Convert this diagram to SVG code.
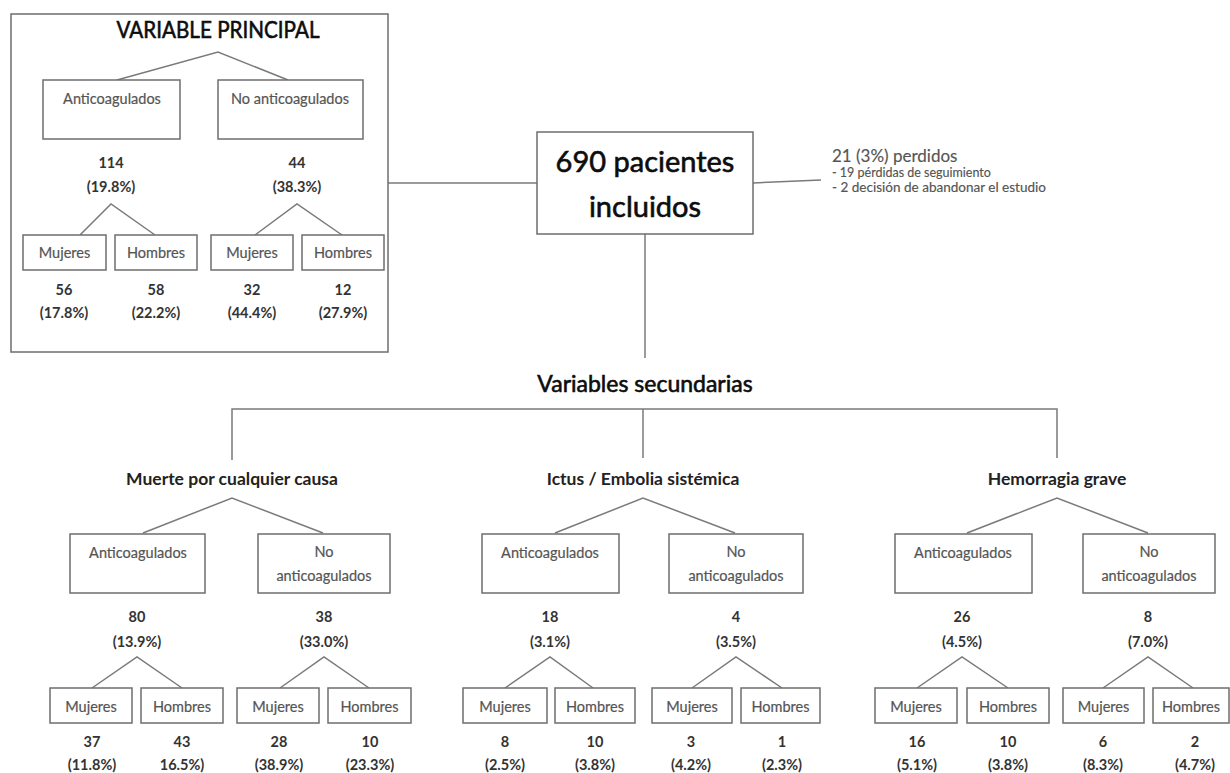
<svg xmlns="http://www.w3.org/2000/svg" width="1230" height="773" viewBox="0 0 1230 773">
<style>
text{font-family:Lato,"Liberation Sans",sans-serif;text-anchor:middle}
.box{fill:#fff;stroke:#6e6e6e;stroke-width:1.5}
.frame{fill:none;stroke:#6e6e6e;stroke-width:1.5}
.ln{fill:none;stroke:#7a7a7a;stroke-width:1.5}
.lbl{font-size:14.5px;fill:#555;stroke:#555;stroke-width:0.2}
.num{font-size:14.5px;font-weight:700;fill:#333}
.ttl{font-size:17.5px;font-weight:700;fill:#222}
.big{fill:#0d0d0d;stroke:#0d0d0d;stroke-width:0.6}
.note{text-anchor:start;fill:#555;stroke:#555;stroke-width:0.15}
</style>
<rect width="1230" height="773" fill="#fff"/>
<g id="connectors">
<line class="ln" x1="388" y1="183" x2="537" y2="183"/>
<line class="ln" x1="753" y1="183" x2="821" y2="180"/>
<line class="ln" x1="645" y1="234" x2="645" y2="358"/>
<polyline class="ln" points="232,460 232,409 1057,409 1057,458"/>
<line class="ln" x1="643" y1="409" x2="643" y2="458"/>
<polyline class="ln" points="117,80 218,52 288,80"/>
<polyline class="ln" points="80,235 111,204 155,235"/>
<polyline class="ln" points="255,235 297,204 342,235"/>
<polyline class="ln" points="143,533 232,498 323,533"/>
<polyline class="ln" points="92,688 137,657 182,688"/>
<polyline class="ln" points="280,688 324,657 369,688"/>
<polyline class="ln" points="555,533 643,498 735,533"/>
<polyline class="ln" points="505,688 550,657 593,688"/>
<polyline class="ln" points="692,688 736,657 782,688"/>
<polyline class="ln" points="967,533 1057,498 1148,533"/>
<polyline class="ln" points="917,688 962,657 1008,688"/>
<polyline class="ln" points="1103,688 1148,657 1193,688"/>
</g>
<g id="principal">
<rect class="frame" x="11" y="14" width="377" height="338"/>
<text class="big" x="218" y="38" font-size="23" textLength="203" lengthAdjust="spacingAndGlyphs">VARIABLE PRINCIPAL</text>
</g>
<g id="pp-anti"><rect class="box" x="43" y="80" width="137" height="59"/><text class="lbl" x="112" y="104">Anticoagulados</text><text class="num" x="111" y="168">114</text><text class="num" x="111" y="192">(19.8%)</text></g>
<g id="pp-noanti"><rect class="box" x="218" y="80" width="145" height="59"/><text class="lbl" x="290" y="104">No anticoagulados</text><text class="num" x="297" y="168">44</text><text class="num" x="297" y="192">(38.3%)</text></g>
<g id="pp-anti-m"><rect class="box" x="23" y="235" width="83" height="35"/><text class="lbl" x="64.5" y="258">Mujeres</text><text class="num" x="64" y="295">56</text><text class="num" x="64" y="318">(17.8%)</text></g>
<g id="pp-anti-h"><rect class="box" x="115" y="235" width="82" height="35"/><text class="lbl" x="156" y="258">Hombres</text><text class="num" x="156" y="295">58</text><text class="num" x="156" y="318">(22.2%)</text></g>
<g id="pp-noanti-m"><rect class="box" x="211" y="235" width="82" height="35"/><text class="lbl" x="252" y="258">Mujeres</text><text class="num" x="252" y="295">32</text><text class="num" x="252" y="318">(44.4%)</text></g>
<g id="pp-noanti-h"><rect class="box" x="302" y="235" width="82" height="35"/><text class="lbl" x="343" y="258">Hombres</text><text class="num" x="343" y="295">12</text><text class="num" x="343" y="318">(27.9%)</text></g>
<g id="incluidos"><rect class="box" x="537" y="132" width="216" height="102"/><text class="big" x="645" y="172" font-size="29">690 pacientes</text><text class="big" x="645" y="217" font-size="29">incluidos</text></g>
<g id="perdidos"><text class="note" x="832" y="162" font-size="17">21 (3%) perdidos</text><text class="note" x="832" y="177" font-size="12.5">- 19 pérdidas de seguimiento</text><text class="note" x="832" y="192" font-size="12.5" textLength="214" lengthAdjust="spacingAndGlyphs">- 2 decisión de abandonar el estudio</text></g>
<g id="secundarias"><text class="big" x="645" y="392" font-size="23">Variables secundarias</text></g>
<g id="muerte"><text class="ttl" x="232" y="485">Muerte por cualquier causa</text></g>
<g id="mu-anti"><rect class="box" x="70" y="534" width="135" height="59"/><text class="lbl" x="138" y="558">Anticoagulados</text><text class="num" x="137" y="622">80</text><text class="num" x="137" y="647">(13.9%)</text></g>
<g id="mu-noanti"><rect class="box" x="258" y="534" width="132" height="59"/><text class="lbl" x="324" y="557">No</text><text class="lbl" x="324" y="581">anticoagulados</text><text class="num" x="324" y="622">38</text><text class="num" x="324" y="647">(33.0%)</text></g>
<g id="mu-anti-m"><rect class="box" x="50" y="688" width="82" height="35"/><text class="lbl" x="91" y="712">Mujeres</text><text class="num" x="92" y="747">37</text><text class="num" x="92" y="770">(11.8%)</text></g>
<g id="mu-anti-h"><rect class="box" x="141" y="688" width="82" height="35"/><text class="lbl" x="182" y="712">Hombres</text><text class="num" x="182" y="747">43</text><text class="num" x="182" y="770">16.5%)</text></g>
<g id="mu-noanti-m"><rect class="box" x="237" y="688" width="82" height="35"/><text class="lbl" x="278" y="712">Mujeres</text><text class="num" x="279" y="747">28</text><text class="num" x="279" y="770">(38.9%)</text></g>
<g id="mu-noanti-h"><rect class="box" x="328" y="688" width="83" height="35"/><text class="lbl" x="369.5" y="712">Hombres</text><text class="num" x="370" y="747">10</text><text class="num" x="370" y="770">(23.3%)</text></g>
<g id="ictus"><text class="ttl" x="643" y="485">Ictus / Embolia sistémica</text></g>
<g id="ic-anti"><rect class="box" x="482" y="534" width="137" height="59"/><text class="lbl" x="550" y="558">Anticoagulados</text><text class="num" x="550" y="622">18</text><text class="num" x="550" y="647">(3.1%)</text></g>
<g id="ic-noanti"><rect class="box" x="669" y="534" width="134" height="59"/><text class="lbl" x="736" y="557">No</text><text class="lbl" x="736" y="581">anticoagulados</text><text class="num" x="736" y="622">4</text><text class="num" x="736" y="647">(3.5%)</text></g>
<g id="ic-anti-m"><rect class="box" x="463" y="688" width="84" height="35"/><text class="lbl" x="505" y="712">Mujeres</text><text class="num" x="505" y="747">8</text><text class="num" x="505" y="770">(2.5%)</text></g>
<g id="ic-anti-h"><rect class="box" x="555" y="688" width="80" height="35"/><text class="lbl" x="595" y="712">Hombres</text><text class="num" x="595" y="747">10</text><text class="num" x="595" y="770">(3.8%)</text></g>
<g id="ic-noanti-m"><rect class="box" x="652" y="688" width="80" height="35"/><text class="lbl" x="692" y="712">Mujeres</text><text class="num" x="691" y="747">3</text><text class="num" x="691" y="770">(4.2%)</text></g>
<g id="ic-noanti-h"><rect class="box" x="741" y="688" width="79" height="35"/><text class="lbl" x="780.5" y="712">Hombres</text><text class="num" x="782" y="747">1</text><text class="num" x="782" y="770">(2.3%)</text></g>
<g id="hemorragia"><text class="ttl" x="1057" y="485">Hemorragia grave</text></g>
<g id="he-anti"><rect class="box" x="895" y="534" width="137" height="59"/><text class="lbl" x="963" y="558">Anticoagulados</text><text class="num" x="962" y="622">26</text><text class="num" x="962" y="647">(4.5%)</text></g>
<g id="he-noanti"><rect class="box" x="1083" y="534" width="132" height="59"/><text class="lbl" x="1149" y="557">No</text><text class="lbl" x="1149" y="581">anticoagulados</text><text class="num" x="1148" y="622">8</text><text class="num" x="1148" y="647">(7.0%)</text></g>
<g id="he-anti-m"><rect class="box" x="875" y="688" width="82" height="35"/><text class="lbl" x="916" y="712">Mujeres</text><text class="num" x="917" y="747">16</text><text class="num" x="917" y="770">(5.1%)</text></g>
<g id="he-anti-h"><rect class="box" x="967" y="688" width="82" height="35"/><text class="lbl" x="1008" y="712">Hombres</text><text class="num" x="1008" y="747">10</text><text class="num" x="1008" y="770">(3.8%)</text></g>
<g id="he-noanti-m"><rect class="box" x="1063" y="688" width="81" height="35"/><text class="lbl" x="1103.5" y="712">Mujeres</text><text class="num" x="1103" y="747">6</text><text class="num" x="1103" y="770">(8.3%)</text></g>
<g id="he-noanti-h"><rect class="box" x="1153" y="688" width="76" height="35"/><text class="lbl" x="1191" y="712">Hombres</text><text class="num" x="1195" y="747">2</text><text class="num" x="1195" y="770">(4.7%)</text></g>
</svg>
